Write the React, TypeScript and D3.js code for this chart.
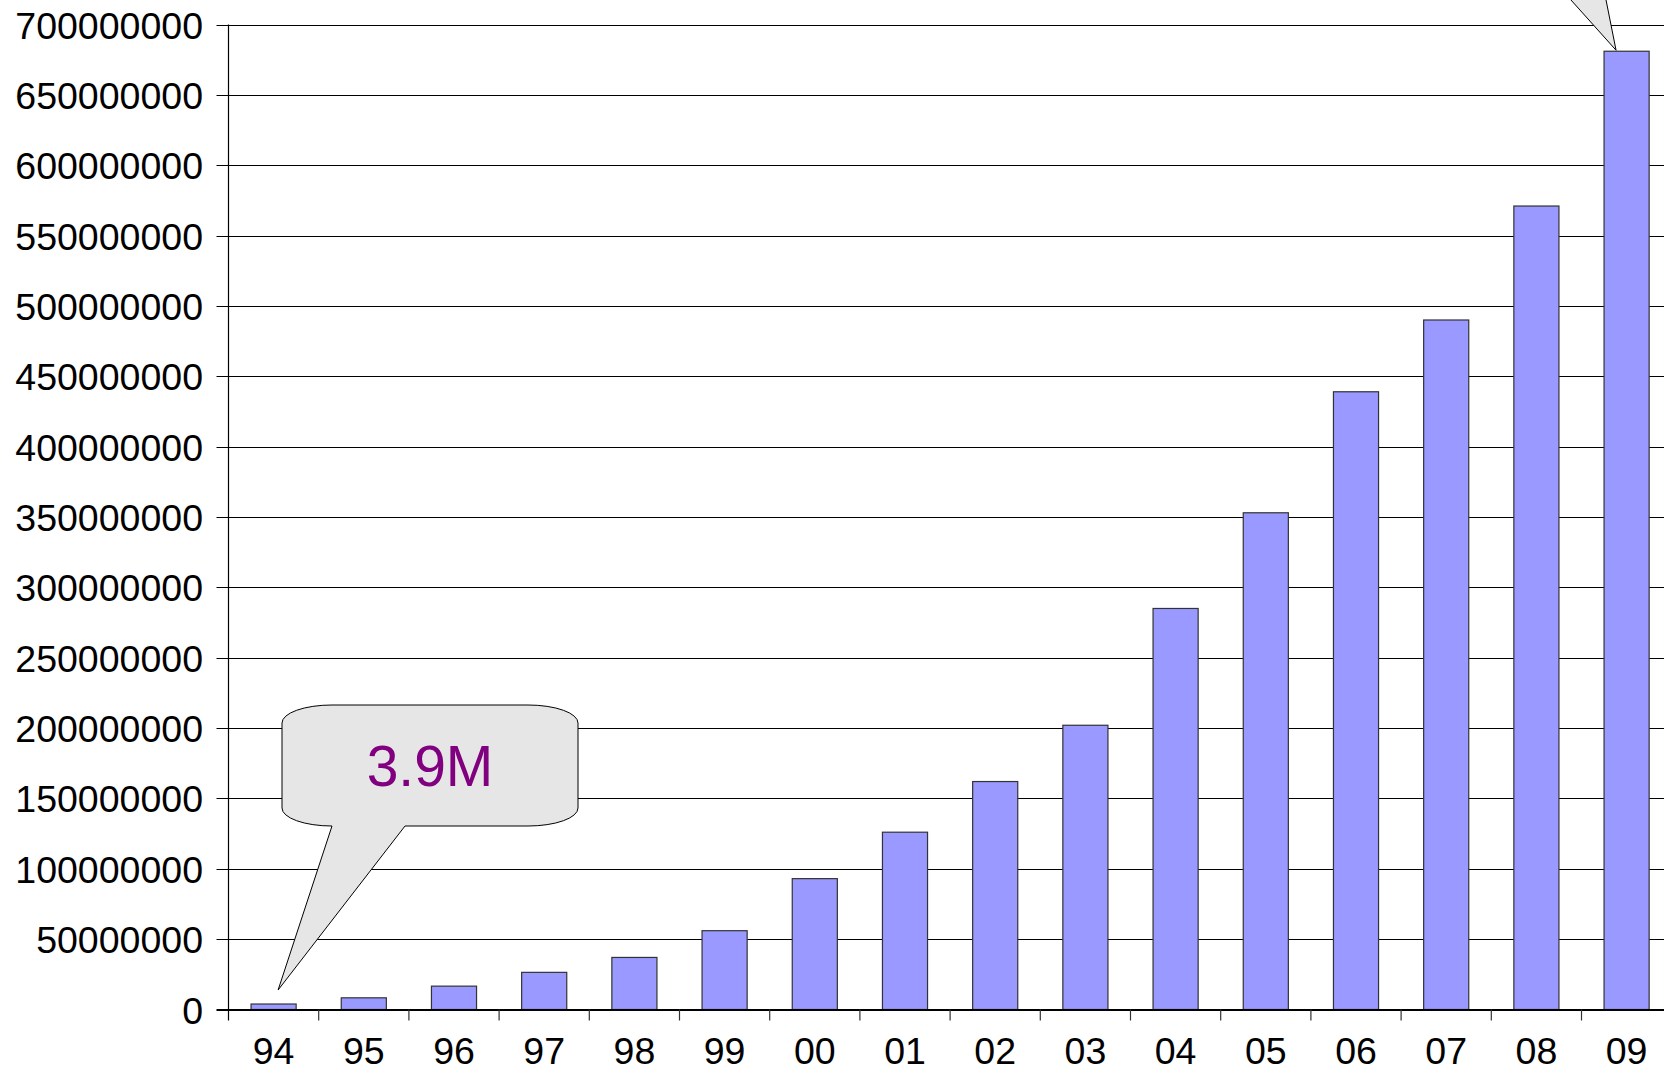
import * as d3 from 'd3';

// Yearly totals
const years = ['94', '95', '96', '97', '98', '99', '00', '01', '02', '03', '04', '05', '06', '07', '08', '09'];
const totals = [
    3900000, 8300000, 16600000, 26400000, 37000000, 56000000, 93000000, 126000000,
    162000000, 202000000, 285000000, 353000000, 439000000, 490000000, 571000000, 681000000,
];
const yTicks = d3.range(0, 700000001, 50000000);
const calloutText = '3.9M';

const W = 1664;
const H = 1068;
const left = 228.5;
const step = 90.2;
const right = left + step * years.length;
const bottom = 1009.5;
const top = 24.5;
const font = '"Liberation Sans", Arial, sans-serif';

export default function App() {
    const x = d3.scaleBand<string>()
        .domain(years)
        .range([left, right])
        .paddingInner(0.5)
        .paddingOuter(0.25);

    const y = d3.scaleLinear()
        .domain([0, 700000000])
        .range([bottom, top]);

    // callout near the first bar
    const tipX = x('94')! + x.bandwidth() * 0.6;
    const tipY = y(totals[0]) - 14;
    const bx0 = 282, bx1 = 578, by0 = 705, by1 = 826, rx = 50, ry = 18;
    const bubble = [
        `M${bx0 + rx},${by0}`,
        `L${bx1 - rx},${by0}`,
        `A${rx},${ry} 0 0 1 ${bx1},${by0 + ry}`,
        `L${bx1},${by1 - ry}`,
        `A${rx},${ry} 0 0 1 ${bx1 - rx},${by1}`,
        `L405,${by1}`,
        `L${tipX},${tipY}`,
        `L332,${by1}`,
        `L${bx0 + rx},${by1}`,
        `A${rx},${ry} 0 0 1 ${bx0},${by1 - ry}`,
        `L${bx0},${by0 + ry}`,
        `A${rx},${ry} 0 0 1 ${bx0 + rx},${by0}`,
        'Z',
    ].join(' ');

    // pointer of the second callout, whose box sits above the picture
    const lastX = x('09')! + 12;
    const lastY = y(totals[totals.length - 1]) - 1;
    const pointer = `M${lastX - 63},-20 L${lastX},${lastY} L${lastX - 14},-20 Z`;

    return (
        <svg width={W} height={H} style={{ position: 'absolute', left: 0, top: 0, background: '#fff' }}>
            {/* gridlines and y ticks */}
            <g stroke="#000" strokeWidth={1}>
                {yTicks.map(t => (
                    <line key={t} x1={left - 12} x2={W} y1={Math.round(y(t)) + 0.5} y2={Math.round(y(t)) + 0.5} />
                ))}
            </g>
            {/* bars */}
            <g fill="#9999ff" stroke="#333" strokeWidth={1.2}>
                {years.map((yr, i) => (
                    <rect key={yr} x={x(yr)} y={y(totals[i])} width={x.bandwidth()} height={bottom - y(totals[i])} />
                ))}
            </g>
            {/* axes */}
            <line x1={left} x2={left} y1={top} y2={bottom + 11} stroke="#000" strokeWidth={1.2} />
            <line x1={left - 12} x2={W} y1={bottom} y2={bottom} stroke="#000" strokeWidth={1.2} />
            <g stroke="#333" strokeWidth={1.2}>
                {years.map((yr, i) => (
                    <line key={yr} x1={left + step * (i + 1)} x2={left + step * (i + 1)} y1={bottom} y2={bottom + 11} />
                ))}
            </g>
            <g fontFamily={font} fontSize={37.5} fill="#000" textAnchor="end">
                {yTicks.map(t => (
                    <text key={t} x={203} y={y(t) + 14}>{t}</text>
                ))}
            </g>
            <g fontFamily={font} fontSize={37.5} fill="#000" textAnchor="middle">
                {years.map(yr => (
                    <text key={yr} x={x(yr)! + x.bandwidth() / 2} y={1064}>{yr}</text>
                ))}
            </g>
            {/* callouts */}
            <path d={bubble} fill="#e6e6e6" stroke="#000" strokeWidth={1} />
            <text x={430} y={786} fontFamily={font} fontSize={57} fill="#800080" textAnchor="middle">{calloutText}</text>
            <path d={pointer} fill="#e6e6e6" stroke="#000" strokeWidth={1} />
        </svg>
    );
}
